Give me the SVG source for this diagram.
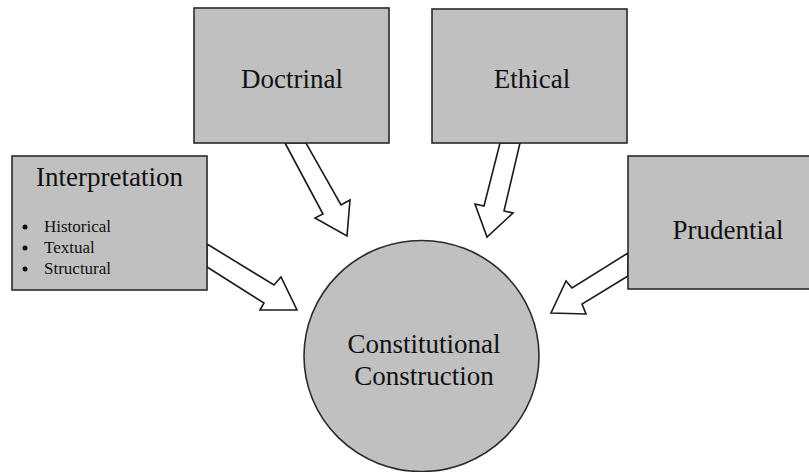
<svg xmlns="http://www.w3.org/2000/svg" width="809" height="472" viewBox="0 0 809 472">
<style>
.box{fill:#c0c0c0;stroke:#2a2a2a;stroke-width:1.6}
.arrow{fill:#ffffff;stroke:#1a1a1a;stroke-width:1.6;stroke-linejoin:miter}
.t{font-family:"Liberation Serif","Times New Roman",serif;fill:#111;font-size:27px}
.s{font-family:"Liberation Serif","Times New Roman",serif;fill:#111;font-size:17px}
</style>
<rect width="809" height="472" fill="#ffffff"/>
<g id="connectors">
<polygon class="arrow" points="207,244 274,285 281,277 297,310 260,310 264,303 207,267"/>
<polygon class="arrow" points="285,143 323,214 315,218 347,236 350,200 341,205 306,143"/>
<polygon class="arrow" points="500,143 484,206 475,204 487,237 513,213 504,211 520,143"/>
<polygon class="arrow" points="628,253 572,288 566,281 551,313 586,314 582,304 628,276"/>
</g>
<g id="interpretation">
<rect class="box" x="12" y="156" width="195" height="134"/>
<text class="t" x="109.5" y="186" text-anchor="middle">Interpretation</text>
<circle cx="25" cy="227" r="2.5" fill="#111"/>
<circle cx="25" cy="248" r="2.5" fill="#111"/>
<circle cx="25" cy="269" r="2.5" fill="#111"/>
<text class="s" x="44" y="232">Historical</text>
<text class="s" x="44" y="253">Textual</text>
<text class="s" x="44" y="274">Structural</text>
</g>
<g id="doctrinal">
<rect class="box" x="194" y="8" width="195" height="135"/>
<text class="t" x="292" y="88" text-anchor="middle">Doctrinal</text>
</g>
<g id="ethical">
<rect class="box" x="432" y="9" width="195" height="134"/>
<text class="t" x="532" y="88" text-anchor="middle">Ethical</text>
</g>
<g id="prudential">
<rect class="box" x="628" y="156" width="195" height="133"/>
<text class="t" x="728" y="239" text-anchor="middle">Prudential</text>
</g>
<g id="construction">
<ellipse class="box" cx="421.5" cy="356" rx="117.5" ry="115.5"/>
<text class="t" x="424" y="353" text-anchor="middle">Constitutional</text>
<text class="t" x="424" y="385" text-anchor="middle">Construction</text>
</g>
</svg>
